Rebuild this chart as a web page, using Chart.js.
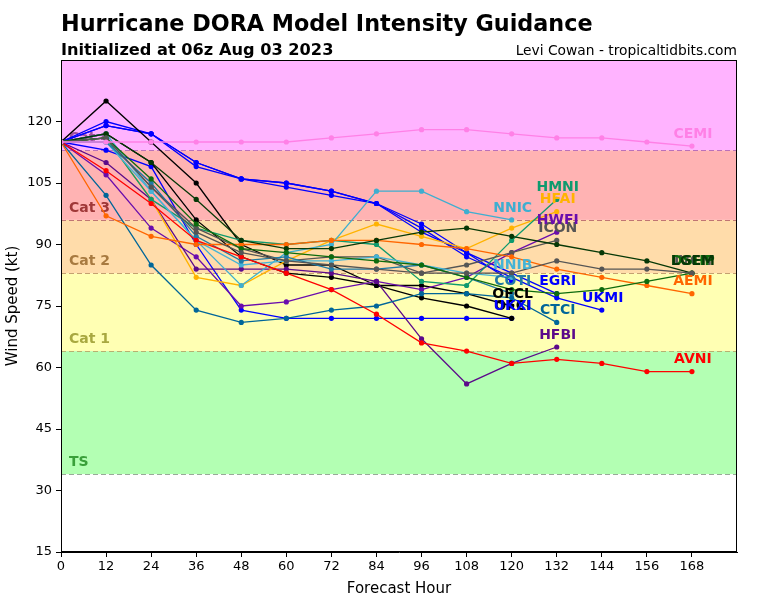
<!DOCTYPE html>
<html><head><meta charset="utf-8">
<script src="https://cdn.jsdelivr.net/npm/chart.js@4/dist/chart.umd.min.js"></script>
<style>html,body{margin:0;padding:0;background:#fff;}canvas{display:block;}</style>
</head><body>
<canvas id="c" width="768" height="600"></canvas>
<script>
// ---- data (kt), one value per 12 h starting at hour 0 ----
const hours = [0,12,24,36,48,60,72,84,96,108,120,132,144,156,168];
const xTicks = [0,12,24,36,48,60,72,84,96,108,120,132,144,156,168];
const yTicks = [15,30,45,60,75,90,105,120];
const bandEdges = [34,64,83,96,113,135];
const bandNames = ['TS','Cat 1','Cat 2','Cat 3','Cat 4'];

const CEMI = [115,115,115,115,115,115,116,117,118,118,117,116,116,115,114];
const IVCN = [115,116,104,93,88,86,85,84,83,83,83,86,84,84,83];
const LGEM = [115,117,110,101,91,89,89,91,93,94,92,90,88,86,83];
const DSHP = [115,116,106,95,89,88,87,86,85,82,79,78,79,81,83];
const AEMI = [115,97,92,90,90,90,91,91,90,89,87,84,82,80,78];
const AVNI = [115,108,100,91,87,83,79,73,66,64,61,62,61,59,59];
const HMNI = [115,116,101,94,91,90,91,90,81,80,91,101];
const HFAI = [115,116,101,82,80,86,91,95,92,89,94,98];
const HWFI = [115,107,94,87,75,76,79,81,79,82,88,93];
const ICON = [115,116,104,94,89,86,87,87,83,85,88,91];
const HFBI = [115,110,101,84,84,84,83,81,67,56,61,65];
const CTCI = [115,102,85,74,71,72,74,75,78,78,77,71];
const NNIC = [115,117,103,91,80,88,90,103,103,98,96];
const NNIB = [115,115,103,91,85,86,86,87,85,83,82];
const COTI = [115,115,105,92,86,87,84,84,85,82,78];
const OFCL = [115,117,110,96,87,83,82,80,80,78,75];
const OFCI = [115,125,115,105,90,85,85,80,77,75,72];
const UKXI = [115,113,109,90,74,72,72,72,72,72,72];
const EMXI = [115,119,117,110,106,105,103,100,93,88,81];
const EGRI = [115,120,117,110,106,105,103,100,95,88,83,78];
const UKMI = [115,119,117,109,106,104,102,100,94,87,82,77,74];

const models = [
  {name:'CEMI', data:CEMI, color:'#ff80e6', label:true},
  {name:'IVCN', data:IVCN, color:'#555555', label:true},
  {name:'DSHP', data:DSHP, color:'#0d6b0d', label:true},
  {name:'LGEM', data:LGEM, color:'#063806', label:true},
  {name:'AEMI', data:AEMI, color:'#ff6600', label:true},
  {name:'AVNI', data:AVNI, color:'#ff0000', label:true},
  {name:'CTCI', data:CTCI, color:'#006699', label:true},
  {name:'COTI', data:COTI, color:'#1f7aa5', label:true},
  {name:'NNIB', data:NNIB, color:'#45b3d6', label:true},
  {name:'NNIC', data:NNIC, color:'#3eaed0', label:true},
  {name:'ICON', data:ICON, color:'#555555', label:true},
  {name:'HMNI', data:HMNI, color:'#0f9a6e', label:true},
  {name:'HFAI', data:HFAI, color:'#ffb300', label:true},
  {name:'HFBI', data:HFBI, color:'#5c0a8a', label:true},
  {name:'HWFI', data:HWFI, color:'#6a0dad', label:true},
  {name:'OFCL', data:OFCL, color:'#000000', label:true},
  {name:'OFCI', data:OFCI, color:'#000000', label:true},
  {name:'UKXI', data:UKXI, color:'#0000ff', label:true},
  {name:'EMXI', data:EMXI, color:'#0000ff', label:false},
  {name:'EGRI', data:EGRI, color:'#0000ff', label:true},
  {name:'UKMI', data:UKMI, color:'#0000ff', label:true}
];

const bandFill = ['#b3ffb3','#ffffb3','#ffdcaa','#ffb3b3','#ffb3ff'];
const bandLine = ['#99aa99','#b8b070','#c4a070','#c07474','#bb70bb'];
const bandText = ['#3aa03a','#a8a840','#a87a40','#a03838','#a050a0'];

const bgPlugin = {
  id:'bands',
  beforeDatasetsDraw(chart){
    const {ctx, chartArea:a, scales:{y}} = chart;
    ctx.save();
    for(let i=0;i<5;i++){
      const y0 = y.getPixelForValue(bandEdges[i]);
      const y1 = y.getPixelForValue(Math.min(bandEdges[i+1], y.max));
      ctx.fillStyle = bandFill[i];
      ctx.fillRect(a.left, y1, a.right-a.left, y0-y1);
    }
    ctx.setLineDash([5,3]);
    ctx.lineWidth = 1.2;
    for(let i=0;i<5;i++){
      const yy = Math.round(y.getPixelForValue(bandEdges[i]))+0.5;
      ctx.strokeStyle = bandLine[i];
      ctx.beginPath(); ctx.moveTo(a.left, yy); ctx.lineTo(a.right, yy); ctx.stroke();
    }
    ctx.setLineDash([]);
    ctx.font = 'bold 14px "DejaVu Sans"';
    ctx.textBaseline = 'alphabetic';
    ctx.textAlign = 'left';
    for(let i=0;i<5;i++){
      ctx.fillStyle = bandText[i];
      ctx.fillText(bandNames[i], a.left+8, y.getPixelForValue(bandEdges[i])-8);
    }
    ctx.restore();
  },
  afterDatasetsDraw(chart){
    const {ctx, chartArea:a, scales:{x,y}} = chart;
    ctx.save();
    ctx.font = 'bold 14px "DejaVu Sans"';
    ctx.textAlign = 'center';
    ctx.textBaseline = 'middle';
    models.forEach(m=>{
      if(!m.label) return;
      const i = m.data.length-1;
      ctx.fillStyle = m.color;
      ctx.fillText(m.name, x.getPixelForValue(hours[i])+1, y.getPixelForValue(m.data[i])-12);
    });
    ctx.strokeStyle = '#000'; ctx.lineWidth = 1;
    ctx.strokeRect(a.left+0.5, a.top+0.5, a.right-a.left-1, a.bottom-a.top-1);
    // titles
    ctx.fillStyle = '#000';
    ctx.textAlign = 'left'; ctx.textBaseline = 'alphabetic';
    ctx.font = 'bold 22.3px "DejaVu Sans"';
    ctx.fillText('Hurricane DORA Model Intensity Guidance', 61, 31);
    ctx.font = 'bold 16.2px "DejaVu Sans"';
    ctx.fillText('Initialized at 06z Aug 03 2023', 61, 55);
    ctx.font = '13.8px "DejaVu Sans"';
    ctx.textAlign = 'right';
    ctx.fillText('Levi Cowan - tropicaltidbits.com', 737, 55);
    ctx.restore();
  }
};

new Chart(document.getElementById('c'), {
  type:'line',
  data:{
    datasets: models.map(m=>({
      label:m.name,
      data:m.data.map((v,i)=>({x:hours[i], y:v})),
      borderColor:m.color, backgroundColor:m.color,
      borderWidth:1.3, pointRadius:2.6, pointHoverRadius:2.6,
      pointBorderWidth:0, tension:0
    }))
  },
  options:{
    responsive:false, animation:false, devicePixelRatio:1,
    layout:{padding:{top:60, right:31, left:0, bottom:0}},
    plugins:{legend:{display:false}, tooltip:{enabled:false}},
    scales:{
      x:{type:'linear', min:0, max:180,
        afterBuildTicks(s){ s.ticks = xTicks.map(v=>({value:v})); },
        afterFit(s){ s.height = 48; },
        ticks:{color:'#000', font:{family:'DejaVu Sans', size:13}, maxRotation:0, padding:2},
        grid:{drawOnChartArea:false, color:'#000', tickLength:5},
        border:{color:'#000'},
        title:{display:true, text:'Forecast Hour', color:'#000', font:{family:'DejaVu Sans', size:15}, padding:{top:0,bottom:2}}
      },
      y:{type:'linear', min:15, max:135,
        afterBuildTicks(s){ s.ticks = yTicks.map(v=>({value:v})); },
        afterFit(s){ s.width = 61; },
        ticks:{color:'#000', font:{family:'DejaVu Sans', size:13}, padding:4},
        grid:{drawOnChartArea:false, color:'#000', tickLength:5},
        border:{color:'#000'},
        title:{display:true, text:'Wind Speed (kt)', color:'#000', font:{family:'DejaVu Sans', size:15}, padding:{top:4,bottom:0}}
      }
    }
  },
  plugins:[bgPlugin]
});
</script>
</body></html>
